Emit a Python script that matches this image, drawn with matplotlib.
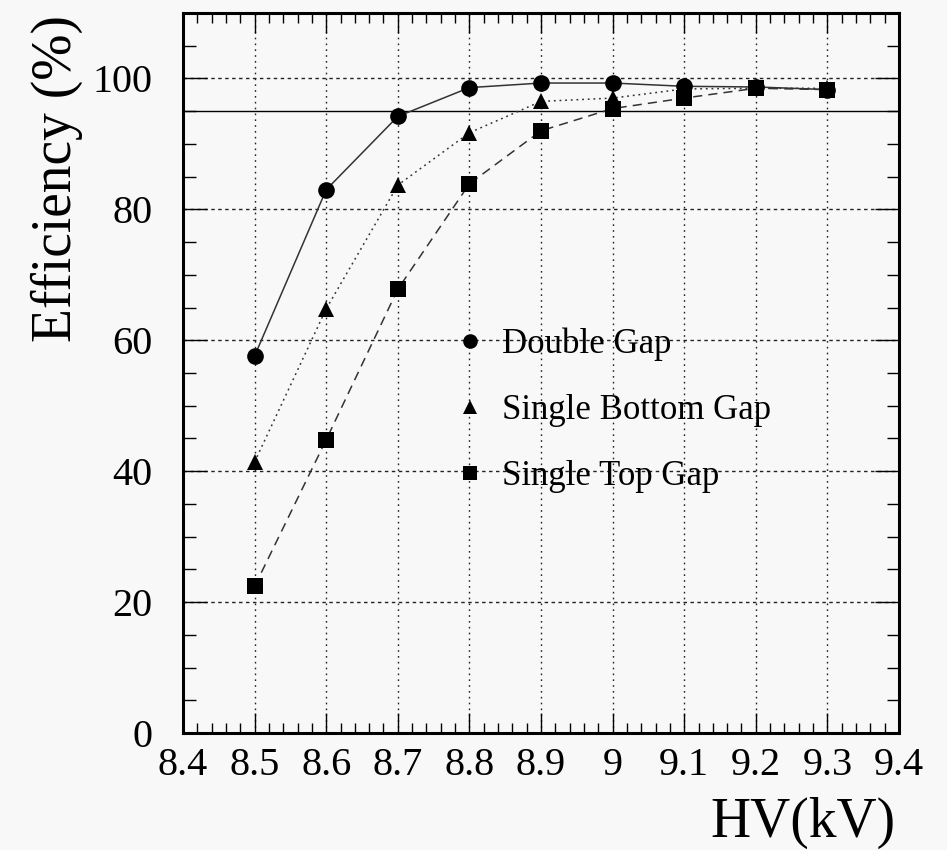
import matplotlib
matplotlib.use("Agg")
import matplotlib.pyplot as plt
from matplotlib.lines import Line2D
from matplotlib.ticker import MultipleLocator, FixedLocator

plt.rcParams['font.family'] = ['Liberation Serif', 'DejaVu Serif']

# ---- data ----
hv = [8.5, 8.6, 8.7, 8.8, 8.9, 9.0, 9.1, 9.2, 9.3]
double_gap = [57.6, 83.0, 94.2, 98.6, 99.3, 99.3, 98.8, 98.7, 98.3]
single_bottom = [41.4, 64.8, 83.7, 91.7, 96.5, 97.0, 98.4, 98.5, 98.5]
single_top = [22.4, 44.8, 67.8, 83.9, 92.0, 95.4, 97.0, 98.5, 98.3]
labels = ["Double Gap", "Single Bottom Gap", "Single Top Gap"]
xtick_vals = [8.4, 8.5, 8.6, 8.7, 8.8, 8.9, 9.0, 9.1, 9.2, 9.3, 9.4]
xtick_labels = ["8.4", "8.5", "8.6", "8.7", "8.8", "8.9", "9", "9.1", "9.2", "9.3", "9.4"]
ytick_vals = [0, 20, 40, 60, 80, 100]
ref_level = 95

bg = '#f8f8f8'
fig = plt.figure(figsize=(9.47, 8.5), dpi=100, facecolor=bg)
ax = fig.add_axes([183/947, 1-733/850, (899-183)/947, (733-13)/850])
ax.set_facecolor(bg)

ax.set_xlim(8.4, 9.4)
ax.set_ylim(0, 110)

# grid
for xv in xtick_vals[1:-1]:
    ax.axvline(xv, color='#222222', lw=1.0, linestyle=(0, (1.2, 3.0)), zorder=1)
for yv in ytick_vals[1:]:
    ax.axhline(yv, color='#222222', lw=1.0, linestyle=(0, (2.5, 2.5)), zorder=1)
ax.axhline(ref_level, color='black', lw=1.0, zorder=2)

ax.plot(hv, double_gap, color='#333333', lw=1.1, linestyle='-', zorder=3)
ax.plot(hv, single_bottom, color='#333333', lw=1.1, linestyle=(0, (1.2, 2.5)), zorder=3)
ax.plot(hv, single_top, color='#333333', lw=1.1, linestyle=(0, (6, 4)), zorder=3)
ax.plot(hv, double_gap, 'o', color='black', ms=12, mew=0, zorder=4)
ax.plot(hv, single_bottom, '^', color='black', ms=12, mew=0, zorder=4)
ax.plot(hv, single_top, 's', color='black', ms=11, mew=0, zorder=4)

# ticks
ax.xaxis.set_major_locator(FixedLocator(xtick_vals))
ax.set_xticklabels(xtick_labels)
ax.xaxis.set_minor_locator(MultipleLocator(0.02))
ax.yaxis.set_major_locator(FixedLocator(ytick_vals))
ax.set_yticklabels([str(v) for v in ytick_vals])
ax.yaxis.set_minor_locator(MultipleLocator(5))
ax.tick_params(axis='both', which='both', direction='in', top=True, right=True, width=1.0, colors='black')
ax.tick_params(axis='x', which='major', length=14.5, labelsize=29, pad=10)
ax.tick_params(axis='x', which='minor', length=7)
ax.tick_params(axis='y', which='major', length=17, labelsize=29, pad=22)
ax.tick_params(axis='y', which='minor', length=9)
for s in ax.spines.values():
    s.set_linewidth(2.2)

# axis titles
fig.text(57/947, 1-15/850, "Efficiency (%)", rotation=90, ha='center', va='top', fontsize=40)
fig.text(895/947, 1-837/850, "HV(kV)", ha='right', va='baseline', fontsize=40)

# legend
handles = [
    Line2D([], [], marker='o', color='black', linestyle='none', ms=10.5, mew=0),
    Line2D([], [], marker='^', color='black', linestyle='none', ms=10.5, mew=0),
    Line2D([], [], marker='s', color='black', linestyle='none', ms=9.5, mew=0),
]
ax.legend(handles, labels, loc='upper left', bbox_to_anchor=(0.3765, 0.563),
          frameon=False, fontsize=25, handlelength=1.0, handletextpad=0.42,
          labelspacing=0.95, borderpad=0, borderaxespad=0)

fig.savefig("out.png", dpi=100, facecolor=bg)
